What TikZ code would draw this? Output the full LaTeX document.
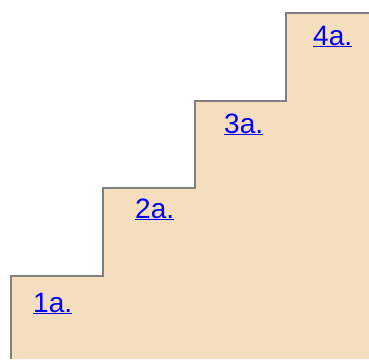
\documentclass[tikz,border=0pt]{standalone}
\usepackage{fontspec}
\setmainfont{Liberation Sans}
\definecolor{stairfill}{RGB}{245,222,190}
\definecolor{stairedge}{RGB}{128,128,128}
\definecolor{linkblue}{RGB}{0,0,255}
\begin{document}
\begin{tikzpicture}[x=1pt,y=-1pt,font=\fontsize{28}{32}\selectfont,stairlabel/.style={text=linkblue,anchor=base west,inner sep=0pt},edge/.style={draw=stairedge,line width=1.6pt}]
\useasboundingbox (0,0) rectangle (369,359);
\fill[stairfill] (11,359) -- (11,276) -- (103,276) -- (103,188) -- (195,188) -- (195,101) -- (286,101) -- (286,13) -- (369,13) -- (369,359) -- cycle;
\draw[edge] (11,359) -- (11,276) -- (103,276) -- (103,188) -- (195,188) -- (195,101) -- (286,101) -- (286,13) -- (369,13);
\node[stairlabel] (one) at (33,312) {\underline{1a.}};
\node[stairlabel] (two) at (135,218) {\underline{2a.}};
\node[stairlabel] (three) at (224,133) {\underline{3a.}};
\node[stairlabel] (four) at (313,45) {\underline{4a.}};
\end{tikzpicture}
\end{document}
